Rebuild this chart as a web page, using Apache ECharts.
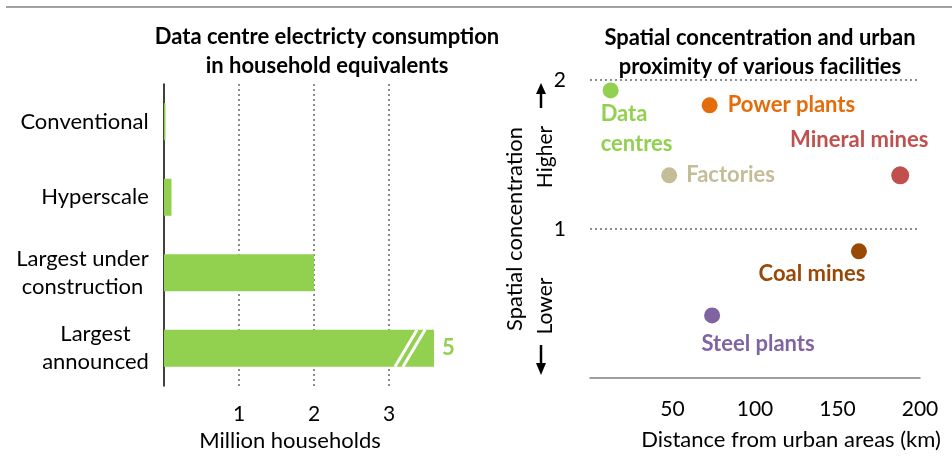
<!DOCTYPE html>
<html>
<head>
<meta charset="utf-8">
<script src="https://cdn.jsdelivr.net/npm/echarts@6/dist/echarts.min.js"></script>
<style>
html,body{margin:0;padding:0;background:#fff;}
#chart{width:952px;height:456px;}
</style>
</head>
<body>
<div id="chart"></div>
<script>
// ---- Left panel data ----
const categories = ['Conventional', 'Hyperscale', 'Largest under\nconstruction', 'Largest\nannounced'];
const households = [0.02, 0.1, 2, 5];          // million households
const barAxisCap = 3.6;                          // axis is broken beyond this value
const breakAt = 3.08;                            // where the break marks sit

// ---- Right panel data ----
const facilityNames = ['Data\ncentres', 'Power plants', 'Factories', 'Mineral mines', 'Coal mines', 'Steel plants'];
const distanceKm = [12.5, 72.5, 48, 188, 163, 74];
const concentration = [1.93, 1.83, 1.36, 1.36, 0.85, 0.42];

// ---- Styles ----
const FONT = 'Lato';
const FS = 22;
const GREEN = '#92D050';
const facilityColors = ['#92D050', '#E46C0A', '#C4BD97', '#C0504D', '#984807', '#8064A2'];
const facilitySizes = [16, 16, 16, 18, 16, 16];
const facilityLabel = [
  {position: 'bottom', distance: 0, align: 'left', offset: [-10, 0], lineHeight: 30},
  {position: 'right', distance: 10},
  {position: 'right', distance: 9},
  {position: 'top', distance: 15, offset: [-41, 0]},
  {position: 'bottom', distance: 4, offset: [-47, 0]},
  {position: 'bottom', distance: 9, offset: [46, 0]}
];

// centre the lines of multi-line category labels inside a right-aligned block
const mctx = document.createElement('canvas').getContext('2d');
mctx.font = FS + 'px ' + FONT;
const catRich = {};
categories.forEach((c, i) => {
  const w = Math.max(...c.split('\n').map(l => mctx.measureText(l).width));
  catRich['c' + i] = {width: Math.ceil(w), align: 'center', fontSize: FS, fontFamily: FONT, color: '#000', lineHeight: 28};
});

const chart = echarts.init(document.getElementById('chart'));

const scatterData = facilityNames.map((n, i) => ({
  name: n,
  value: [distanceKm[i], concentration[i]],
  symbolSize: facilitySizes[i],
  itemStyle: {color: facilityColors[i], opacity: 1},
  label: Object.assign({
    show: true, formatter: '{b}', color: facilityColors[i],
    fontFamily: FONT, fontWeight: 'bold', fontSize: FS
  }, facilityLabel[i])
}));

const option = {
  animation: false,
  backgroundColor: '#fff',
  textStyle: {fontFamily: FONT},
  title: [
    {text: 'Data centre electricty consumption\nin household equivalents', left: 322, top: 17, textAlign: 'center',
     textStyle: {fontFamily: FONT, fontWeight: 'bold', fontSize: FS, lineHeight: 29, color: '#000'}},
    {text: 'Spatial concentration and urban\nproximity of various facilities', left: 755, top: 18, textAlign: 'center',
     textStyle: {fontFamily: FONT, fontWeight: 'bold', fontSize: FS, lineHeight: 29, color: '#000'}}
  ],
  grid: [
    {left: 164, top: 84, width: 270, height: 302, outerBoundsMode: 'none', containLabel: false},
    {left: 590, top: 80, width: 330, height: 298, outerBoundsMode: 'none', containLabel: false}
  ],
  xAxis: [
    {gridIndex: 0, type: 'value', min: 0, max: barAxisCap, interval: 1,
     axisLine: {show: false}, axisTick: {show: false},
     axisLabel: {showMinLabel: false, showMaxLabel: false, margin: 18, fontSize: 21, color: '#000', fontFamily: FONT},
     splitLine: {show: true, showMinLine: false, showMaxLine: false, lineStyle: {color: '#8c8c8c', type: [2, 3], width: 2}},
     name: 'Million households', nameLocation: 'middle', nameGap: 43,
     nameTextStyle: {fontSize: FS, color: '#000', fontFamily: FONT, padding: [0, 18, 0, 0]}},
    {gridIndex: 1, type: 'value', min: 0, max: 200, interval: 50,
     axisLine: {show: true, lineStyle: {color: '#808080', width: 1.5}}, axisTick: {show: false},
     axisLabel: {showMinLabel: false, margin: 21, fontSize: 21, color: '#000', fontFamily: FONT},
     splitLine: {show: false},
     name: 'Distance from urban areas (km)', nameLocation: 'middle', nameGap: 51,
     nameTextStyle: {fontSize: FS, color: '#000', fontFamily: FONT, padding: [0, 0, 0, 72]}}
  ],
  yAxis: [
    {gridIndex: 0, type: 'category', data: categories, inverse: true,
     axisLine: {show: true, lineStyle: {color: '#000', width: 1.5}}, axisTick: {show: false},
     axisLabel: {margin: 15, fontSize: FS, color: '#000', fontFamily: FONT, lineHeight: 28, align: 'right',
       formatter: (v, i) => v.split('\n').map(l => '{c' + i + '|' + l + '}').join('\n'),
       rich: catRich}},
    {gridIndex: 1, type: 'value', min: 0, max: 2, interval: 1,
     axisLine: {show: false}, axisTick: {show: false},
     axisLabel: {showMinLabel: false, margin: 24, fontSize: 21, color: '#000', fontFamily: FONT},
     splitLine: {show: true, showMinLine: false, lineStyle: {color: '#8c8c8c', type: [2, 3], width: 2}},
     name: 'Spatial concentration', nameLocation: 'middle', nameGap: 64,
     nameTextStyle: {fontSize: FS, color: '#000', fontFamily: FONT}}
  ],
  series: [
    {type: 'bar', xAxisIndex: 0, yAxisIndex: 0, data: households, barWidth: 37, clip: true,
     itemStyle: {color: GREEN},
     label: {show: true, position: 'right', distance: 8, color: GREEN, fontWeight: 'bold', fontSize: FS,
             fontFamily: FONT,
             formatter: p => (p.value > barAxisCap ? String(p.value) : '')}},
    {type: 'scatter', xAxisIndex: 1, yAxisIndex: 1, data: scatterData, z: 3}
  ]
};
chart.setOption(option);

// Decorations derived from the axes
const lastIdx = households.length - 1;
const pB = chart.convertToPixel({xAxisIndex: 0, yAxisIndex: 0}, [breakAt, lastIdx]);
const half = 18.5, slant = 22;
function stripe(x0) {
  return {type: 'line', z: 10,
    shape: {x1: x0, y1: pB[1] + half, x2: x0 + slant, y2: pB[1] - half},
    style: {stroke: '#fff', lineWidth: 3}};
}
const p2 = chart.convertToPixel({xAxisIndex: 1, yAxisIndex: 1}, [0, 2]);
const p0 = chart.convertToPixel({xAxisIndex: 1, yAxisIndex: 1}, [0, 0]);
const ax = p2[0] - 49;
chart.setOption({
  graphic: [
    {type: 'line', shape: {x1: 6, y1: 7, x2: 952, y2: 7}, style: {stroke: '#a0a0a0', lineWidth: 2}},
    stripe(pB[0]), stripe(pB[0] + 8),
    // Higher / Lower hints
    {type: 'text', x: ax + 4, y: 157, rotation: Math.PI / 2,
     style: {text: 'Higher', fontSize: 21, fontFamily: FONT, fill: '#000', align: 'center', verticalAlign: 'middle'}},
    {type: 'text', x: ax + 4, y: 306, rotation: Math.PI / 2,
     style: {text: 'Lower', fontSize: 21, fontFamily: FONT, fill: '#000', align: 'center', verticalAlign: 'middle'}},
    {type: 'line', shape: {x1: ax, y1: p2[1] + 28, x2: ax, y2: p2[1] + 10}, style: {stroke: '#000', lineWidth: 2.5}},
    {type: 'polygon', shape: {points: [[ax - 5, p2[1] + 14], [ax + 5, p2[1] + 14], [ax, p2[1] + 3]]}, style: {fill: '#000'}},
    {type: 'line', shape: {x1: ax, y1: p0[1] - 33, x2: ax, y2: p0[1] - 12}, style: {stroke: '#000', lineWidth: 2.5}},
    {type: 'polygon', shape: {points: [[ax - 5, p0[1] - 15], [ax + 5, p0[1] - 15], [ax, p0[1] - 3]]}, style: {fill: '#000'}}
  ]
});
</script>
</body>
</html>
